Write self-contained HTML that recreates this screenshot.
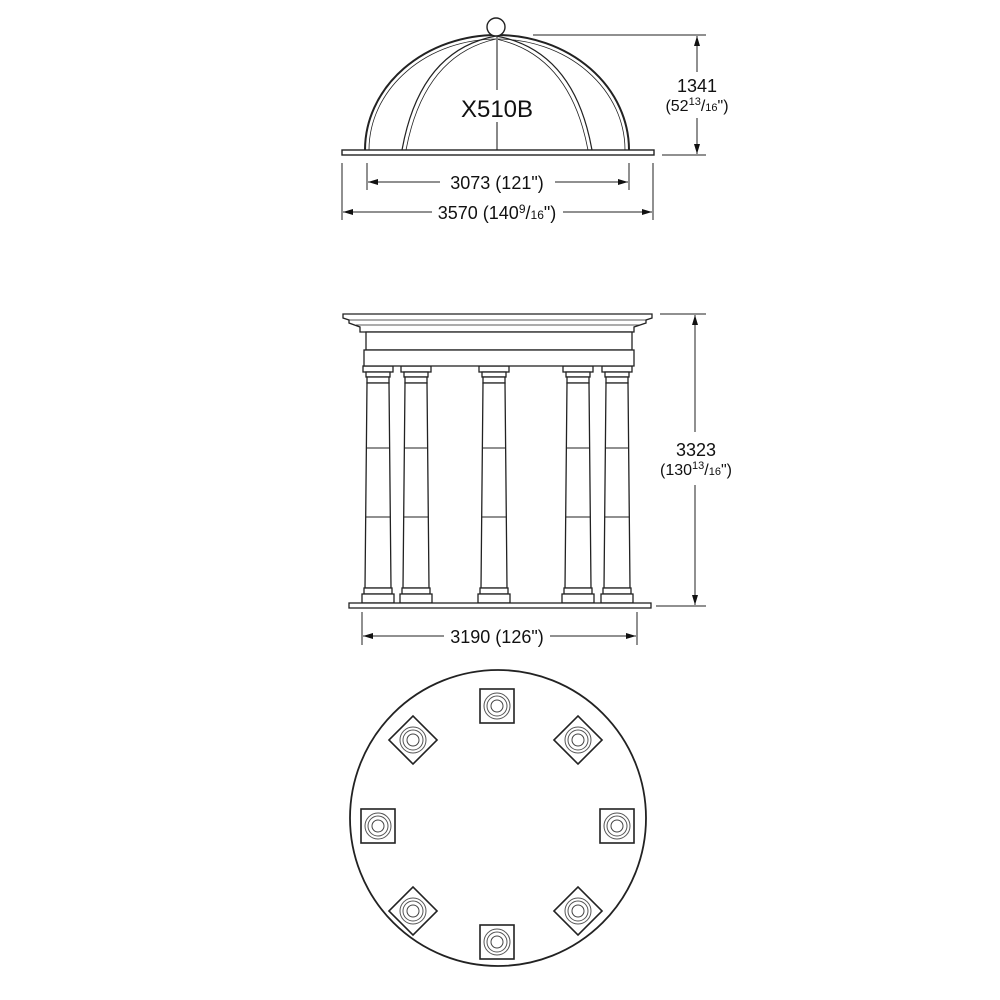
<!DOCTYPE html>
<html><head><meta charset="utf-8"><style>
html,body{margin:0;padding:0;background:#fff}
svg{display:block}
text{font-family:"Liberation Sans",sans-serif;fill:#111}
</style></head><body>
<svg width="1000" height="1000" viewBox="0 0 1000 1000" xmlns="http://www.w3.org/2000/svg">
<defs>
<marker id="a" viewBox="0 0 10 6" refX="10" refY="3" markerWidth="10" markerHeight="6" markerUnits="userSpaceOnUse" orient="auto-start-reverse"><path d="M0,0L10,3L0,6z" fill="#111"/></marker>
<g id="col" fill="#fff" stroke="#222" stroke-width="1.3">
<rect x="-15" y="366" width="30" height="6"/>
<rect x="-12" y="372" width="24" height="5"/>
<rect x="-11" y="377" width="22" height="6"/>
<polygon points="-11,383 11,383 13,588 -13,588"/>
<line x1="-12" y1="448" x2="12" y2="448" stroke-width="1"/>
<line x1="-12" y1="517" x2="12" y2="517" stroke-width="1"/>
<rect x="-14" y="588" width="28" height="6"/>
<rect x="-16" y="594" width="32" height="9"/>
</g>
<g id="pc" fill="none" stroke="#222">
<rect x="-17" y="-17" width="34" height="34" fill="#fff" stroke-width="1.6"/>
<circle r="13" stroke-width="1" stroke="#555"/>
<circle r="10" stroke-width="1" stroke="#555"/>
<circle r="6" stroke-width="1" stroke="#444"/>
</g>
</defs>

<!-- DOME -->
<g fill="none" stroke="#222">
<path d="M365,150 A132,115 0 0 1 629,150" stroke-width="2"/>
<path d="M369,150 A128,111 0 0 1 625,150" stroke-width="0.8"/>
<path d="M402,150 Q420,50 496,36 Q574,50 592,150" stroke-width="1.2"/>
<path d="M406,150 Q424,55 496,39 Q570,55 588,150" stroke-width="0.8"/>
<line x1="497" y1="37" x2="497" y2="90" stroke="#888" stroke-width="2"/>
<line x1="497" y1="122" x2="497" y2="150" stroke="#888" stroke-width="2"/>
<circle cx="496" cy="27" r="9" fill="#fff" stroke-width="1.4"/>
<rect x="342" y="150" width="312" height="5" fill="#fff" stroke-width="1.4"/>
</g>
<text x="497" y="117" font-size="24" text-anchor="middle">X510B</text>

<g stroke="#222" stroke-width="1" fill="none">
<line x1="533" y1="35" x2="706" y2="35"/>
<line x1="662" y1="155" x2="706" y2="155"/>
<line x1="697" y1="36" x2="697" y2="72" marker-start="url(#a)"/>
<line x1="697" y1="118" x2="697" y2="154" marker-end="url(#a)"/>
<line x1="367" y1="163" x2="367" y2="190"/>
<line x1="629" y1="163" x2="629" y2="190"/>
<line x1="368" y1="182" x2="440" y2="182" marker-start="url(#a)"/>
<line x1="555" y1="182" x2="628" y2="182" marker-end="url(#a)"/>
<line x1="342" y1="163" x2="342" y2="220"/>
<line x1="653" y1="163" x2="653" y2="220"/>
<line x1="343" y1="212" x2="432" y2="212" marker-start="url(#a)"/>
<line x1="563" y1="212" x2="652" y2="212" marker-end="url(#a)"/>
</g>
<text x="697" y="92" font-size="18" text-anchor="middle">1341</text>
<text x="697" y="111" font-size="16" text-anchor="middle">(52<tspan font-size="11" dy="-6">13</tspan><tspan dy="6">/</tspan><tspan font-size="11">16</tspan>")</text>
<text x="497" y="189" font-size="18" text-anchor="middle">3073 (121")</text>
<text x="497" y="219" font-size="18" text-anchor="middle">3570 (140<tspan font-size="12" dy="-6">9</tspan><tspan dy="6">/</tspan><tspan font-size="12">16</tspan>")</text>

<!-- TEMPLE -->
<use href="#col" x="416"/>
<use href="#col" x="578"/>
<use href="#col" x="378"/>
<use href="#col" x="494"/>
<use href="#col" x="617"/>
<g fill="#fff" stroke="#222" stroke-width="1.3">
<path d="M343,314 H652 V318 L646,320 V323 L634,327 V332 H360 V327 L349,323 V320 L343,318 Z"/>
<line x1="348" y1="320" x2="647" y2="320" stroke-width="0.8"/>
<line x1="356" y1="325" x2="640" y2="325" stroke-width="0.8"/>
<rect x="366" y="332" width="266" height="18"/>
<rect x="364" y="350" width="270" height="16"/>
<rect x="349" y="603" width="302" height="5"/>
</g>
<g stroke="#222" stroke-width="1" fill="none">
<line x1="660" y1="314" x2="706" y2="314"/>
<line x1="656" y1="606" x2="706" y2="606"/>
<line x1="695" y1="315" x2="695" y2="432" marker-start="url(#a)"/>
<line x1="695" y1="485" x2="695" y2="605" marker-end="url(#a)"/>
<line x1="362" y1="612" x2="362" y2="645"/>
<line x1="637" y1="612" x2="637" y2="645"/>
<line x1="363" y1="636" x2="444" y2="636" marker-start="url(#a)"/>
<line x1="550" y1="636" x2="636" y2="636" marker-end="url(#a)"/>
</g>
<text x="696" y="456" font-size="18" text-anchor="middle">3323</text>
<text x="696" y="475" font-size="16" text-anchor="middle">(130<tspan font-size="11" dy="-6">13</tspan><tspan dy="6">/</tspan><tspan font-size="11">16</tspan>")</text>
<text x="497" y="643" font-size="18" text-anchor="middle">3190 (126")</text>

<!-- PLAN -->
<circle cx="498" cy="818" r="148" fill="none" stroke="#222" stroke-width="1.8"/>
<use href="#pc" transform="translate(497,706)"/>
<use href="#pc" transform="translate(497,942)"/>
<use href="#pc" transform="translate(378,826)"/>
<use href="#pc" transform="translate(617,826)"/>
<use href="#pc" transform="translate(413,740) rotate(45)"/>
<use href="#pc" transform="translate(578,740) rotate(45)"/>
<use href="#pc" transform="translate(413,911) rotate(45)"/>
<use href="#pc" transform="translate(578,911) rotate(45)"/>
</svg>
</body></html>
